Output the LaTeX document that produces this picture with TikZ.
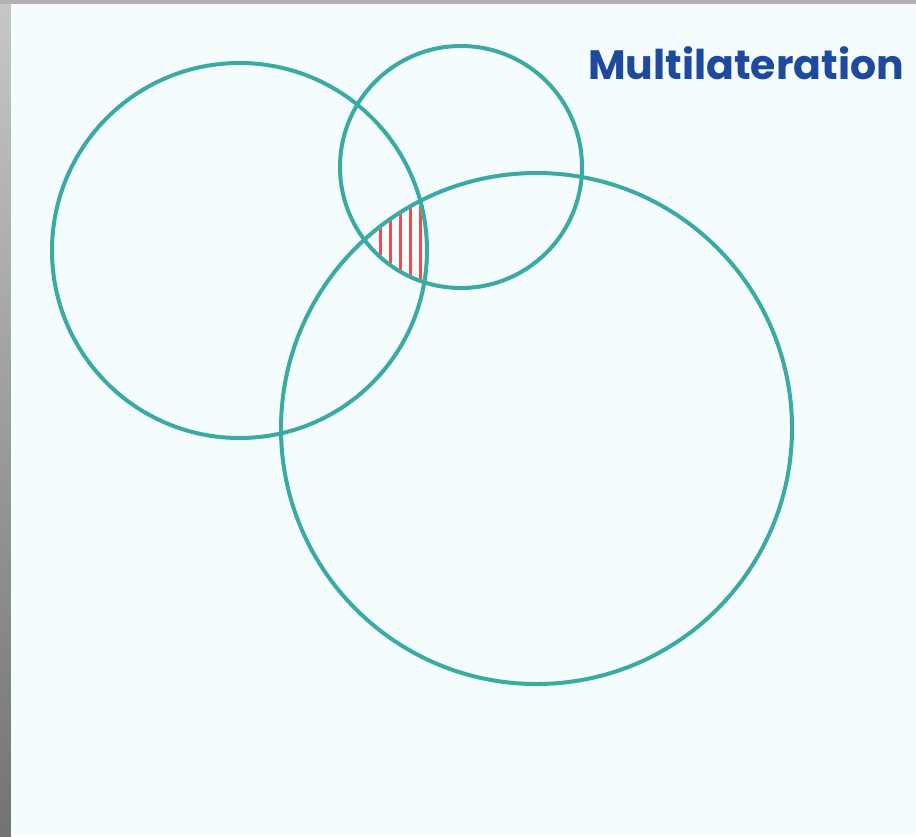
\documentclass[tikz,border=0pt]{standalone}
\usepackage{fontspec}
\setmainfont{Poppins}
\begin{document}
\begin{tikzpicture}[x=1pt,y=-1pt,
  ring/.style={circle, draw=ringc, line width=4pt, inner sep=0pt},
  hatch/.style={draw=hatchc, line width=3pt}]
\definecolor{ringc}{HTML}{3AAAA2}
\definecolor{titlec}{HTML}{1E4A9E}
\definecolor{bgc}{HTML}{F5FCFD}
\definecolor{hatchc}{HTML}{F24B4B}
\useasboundingbox (0,0) rectangle (916,836);
\shade[top color=black!22, bottom color=black!55] (0,0) rectangle (11,836);
\fill[black!30] (0,0) rectangle (916,4);
\fill[bgc] (11,4) rectangle (916,836);
% hatched intersection
\begin{scope}
  \clip (239.5,250.5) circle (185.5);
  \clip (461,167) circle (119);
  \clip (536.5,428.5) circle (253.5);
  \foreach \x in {380,390,400,410,420}
    \draw[hatch] (\x,150) -- (\x,300);
\end{scope}
\node[ring, minimum size=375pt] (a) at (239.5,250.5) {};
\node[ring, minimum size=242pt] (b) at (461,167) {};
\node[ring, minimum size=511pt] (c) at (536.5,428.5) {};
\node[text=titlec, font=\bfseries\fontsize{41}{45}\selectfont, inner sep=0pt] (t) at (746,63) {Multilateration};
\end{tikzpicture}
\end{document}
